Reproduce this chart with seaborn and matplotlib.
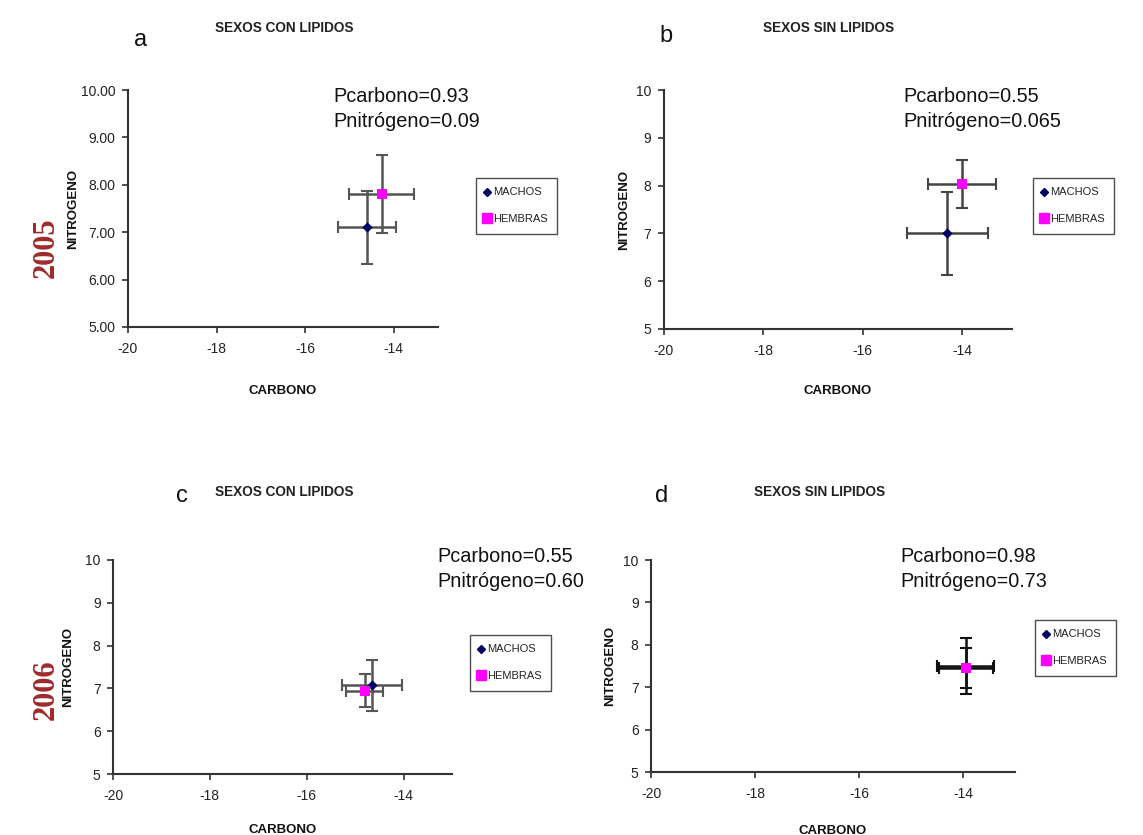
import matplotlib
matplotlib.use("Agg")
import matplotlib.pyplot as plt
import seaborn as sns
import pandas as pd
from matplotlib.lines import Line2D

sns.set_theme(style="white")
plt.rcParams['font.family'] = ['Liberation Sans', 'DejaVu Sans']
plt.rcParams['axes.unicode_minus'] = False

# ---- data ----
panels = ["a", "b", "c", "d"]
titles = ["SEXOS CON LIPIDOS", "SEXOS SIN LIPIDOS", "SEXOS CON LIPIDOS", "SEXOS SIN LIPIDOS"]
pvalues = ["Pcarbono=0.93\nPnitrógeno=0.09", "Pcarbono=0.55\nPnitrógeno=0.065",
           "Pcarbono=0.55\nPnitrógeno=0.60", "Pcarbono=0.98\nPnitrógeno=0.73"]
sexes = ["MACHOS", "HEMBRAS"]
machos_c = [-14.60, -14.30, -14.66, -13.95]
machos_c_err = [0.66, 0.81, 0.62, 0.55]
machos_n = [7.10, 7.00, 7.07, 7.50]
machos_n_err = [0.77, 0.87, 0.60, 0.65]
hembras_c = [-14.27, -14.00, -14.80, -13.95]
hembras_c_err = [0.73, 0.68, 0.38, 0.52]
hembras_n = [7.80, 8.03, 6.95, 7.45]
hembras_n_err = [0.82, 0.50, 0.38, 0.48]
x_ticks = [-20, -18, -16, -14]
y_ticks = [5, 6, 7, 8, 9, 10]
years = ["2005", "2006"]

colors = {"MACHOS": "#000066", "HEMBRAS": "#FF00FF"}
markers = {"MACHOS": "D", "HEMBRAS": "s"}
sizes = {"MACHOS": 28, "HEMBRAS": 60}

W, H = 1143, 835
fig = plt.figure(figsize=(W / 100, H / 100), dpi=100)

def px_axes(l, r, t, b):
    return fig.add_axes([l / W, 1 - b / H, (r - l) / W, (b - t) / H])

# axes boxes in pixels: left, right, top, bottom
boxes = [(128, 438, 90, 327), (664, 1012, 90, 329), (113, 452, 560, 774), (651, 1015, 560, 772)]
xlabelpads = [21, 19, 15, 17]
ylabelpads = [1, 4, 8, 5]
title_pos = [(284, 28), (829, 28), (284, 492), (820, 492)]
letter_pos = [(141, 40), (666, 36), (182, 496), (662, 496)]
ptext_pos = [(333, 87), (903, 87), (437, 547), (900, 547)]
legend_pos = [(476, 178), (1033, 178), (470, 635), (1035, 620)]
err_colors = ["#555555", "#444444", "#555555", "#111111"]

for i in range(4):
    l, r, t, b = boxes[i]
    ax = px_axes(l, r, t, b)
    ax.errorbar(machos_c[i], machos_n[i], xerr=machos_c_err[i], yerr=machos_n_err[i],
                fmt="none", ecolor=err_colors[i], elinewidth=1.8, capsize=4, capthick=1.5, zorder=2)
    ax.errorbar(hembras_c[i], hembras_n[i], xerr=hembras_c_err[i], yerr=hembras_n_err[i],
                fmt="none", ecolor=err_colors[i], elinewidth=1.8, capsize=4, capthick=1.5, zorder=2)
    cs = [machos_c[i], hembras_c[i]]
    ns = [machos_n[i], hembras_n[i]]
    for k, s in enumerate(sexes):
        df = pd.DataFrame({"CARBONO": [cs[k]], "NITROGENO": [ns[k]], "sexo": [s]})
        sns.scatterplot(data=df, x="CARBONO", y="NITROGENO", hue="sexo", palette=colors,
                        marker=markers[s], s=sizes[s], ax=ax, legend=False,
                        zorder=3, linewidth=0)
    ax.set_xlim(-20, -13)
    ax.set_ylim(5, 10)
    ax.set_xticks(x_ticks)
    ax.set_yticks(y_ticks)
    if i == 0:
        ax.set_yticklabels([f"{v:.2f}" for v in y_ticks])
    ax.tick_params(axis="both", labelsize=10, colors="#333333", length=4, width=1.2,
                   direction="out", bottom=True, left=True)
    ax.tick_params(axis="x", pad=7)
    ax.tick_params(axis="y", pad=5)
    for lbl in ax.get_xticklabels() + ax.get_yticklabels():
        lbl.set_color("#222222")
    for s in ["top", "right"]:
        ax.spines[s].set_visible(False)
    for s in ["left", "bottom"]:
        ax.spines[s].set_color("#333333")
        ax.spines[s].set_linewidth(1.5)
    ax.set_xlabel("CARBONO", fontsize=9.5, fontweight="bold", labelpad=xlabelpads[i], color="#111111")
    ax.set_ylabel("NITROGENO", fontsize=9.5, fontweight="bold", labelpad=ylabelpads[i], color="#111111")

    tx, ty = title_pos[i]
    fig.text(tx / W, 1 - ty / H, titles[i], fontsize=9.8, fontweight="bold", color="#222222",
             ha="center", va="center")
    lx, ly = letter_pos[i]
    fig.text(lx / W, 1 - ly / H, panels[i], fontsize=17, ha="center", va="center", color="#111111")
    px, py = ptext_pos[i]
    fig.text(px / W, 1 - py / H, pvalues[i], fontsize=14.3, ha="left", va="top",
             color="#111111", linespacing=1.4)

    handles = [Line2D([0], [0], marker=markers[s], color="none", markerfacecolor=colors[s],
                      markeredgecolor=colors[s], markersize=4.5 if s == "MACHOS" else 6.5, label=s)
               for s in sexes]
    gx, gy = legend_pos[i]
    leg = fig.legend(handles=handles, loc="upper left", bbox_to_anchor=(gx / W, 1 - gy / H),
                     fontsize=8, frameon=True, fancybox=False, handlelength=0.3,
                     handletextpad=0.35, borderpad=0.85, labelspacing=1.5, borderaxespad=0)
    leg.get_frame().set_edgecolor("#222222")
    leg.get_frame().set_linewidth(1.0)
    for txt in leg.get_texts():
        txt.set_color("#222222")

fig.text(46 / W, 1 - 248 / H, years[0], rotation=90, fontsize=22, fontweight="bold",
         family=["Liberation Serif", "DejaVu Serif"], color="#9E2B2B", ha="center", va="center")
fig.text(46 / W, 1 - 690 / H, years[1], rotation=90, fontsize=22, fontweight="bold",
         family=["Liberation Serif", "DejaVu Serif"], color="#9E2B2B", ha="center", va="center")

fig.savefig("out.png", dpi=100, facecolor="white")
